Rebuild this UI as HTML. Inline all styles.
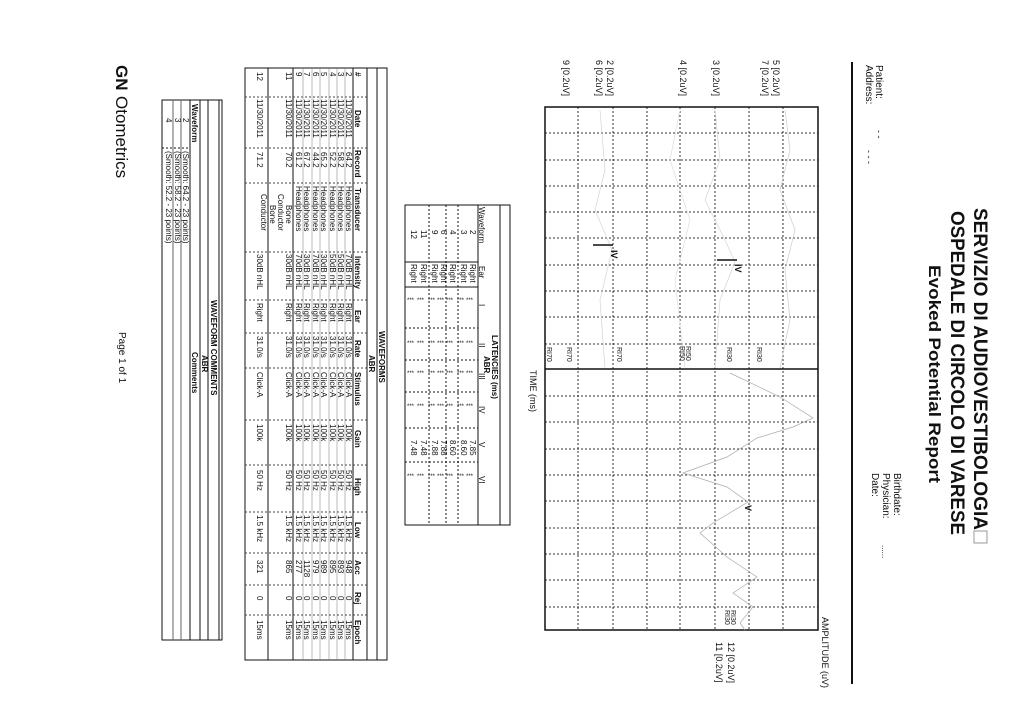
<!DOCTYPE html>
<html><head><meta charset="utf-8"><style>
html,body{margin:0;padding:0;background:#fff;}
svg{display:block}
text{font-family:"Liberation Sans",Arial,sans-serif;fill:#111}
.s{font-size:8px}
.b{font-weight:bold}
</style></head><body>
<svg width="1024" height="724" viewBox="0 0 1024 724" xmlns="http://www.w3.org/2000/svg">
<rect width="1024" height="724" fill="#fff"/>

<text class="b" font-size="19" textLength="322" lengthAdjust="spacingAndGlyphs" transform="translate(974,208) rotate(90)">SERVIZIO DI AUDIOVESTIBOLOGIA</text>
<rect x="974" y="531" width="13" height="12" fill="none" stroke="#999" stroke-width="1"/>
<text class="b" font-size="19" textLength="324" lengthAdjust="spacingAndGlyphs" transform="translate(951,211) rotate(90)">OSPEDALE DI CIRCOLO DI VARESE</text>
<text class="b" font-size="17" textLength="218" lengthAdjust="spacingAndGlyphs" transform="translate(929,265) rotate(90)">Evoked Potential Report</text>

<text font-size="10" transform="translate(876,65) rotate(90)">Patient:</text>
<text font-size="10" transform="translate(866,65) rotate(90)">Address:</text>
<text font-size="9" fill="#777" transform="translate(876,130) rotate(90)">- -</text>
<text font-size="9" fill="#777" transform="translate(866,150) rotate(90)">- - -</text>
<text font-size="10" transform="translate(894,473) rotate(90)">Birthdate:</text>
<text font-size="10" transform="translate(883,473) rotate(90)">Physician:</text>
<text font-size="10" transform="translate(872,473) rotate(90)">Date:</text>
<text font-size="8" fill="#888" transform="translate(882,545) rotate(90)">......</text>

<rect x="851" y="62" width="2" height="622" fill="#111"/>

<g stroke="#333" stroke-width="1" stroke-dasharray="2,2" fill="none">
<line x1="578" y1="107" x2="578" y2="630"/><line x1="613" y1="107" x2="613" y2="630"/>
<line x1="647" y1="107" x2="647" y2="630"/><line x1="680" y1="107" x2="680" y2="630"/>
<line x1="715" y1="107" x2="715" y2="630"/><line x1="749" y1="107" x2="749" y2="630"/>
<line x1="783" y1="107" x2="783" y2="630"/>
<line x1="545" y1="133" x2="818" y2="133"/><line x1="545" y1="160" x2="818" y2="160"/>
<line x1="545" y1="186" x2="818" y2="186"/><line x1="545" y1="212" x2="818" y2="212"/>
<line x1="545" y1="238" x2="818" y2="238"/><line x1="545" y1="265" x2="818" y2="265"/>
<line x1="545" y1="291" x2="818" y2="291"/><line x1="545" y1="317" x2="818" y2="317"/>
<line x1="545" y1="344" x2="818" y2="344"/>
<line x1="545" y1="396" x2="818" y2="396"/><line x1="545" y1="422" x2="818" y2="422"/>
<line x1="545" y1="449" x2="818" y2="449"/><line x1="545" y1="475" x2="818" y2="475"/>
<line x1="545" y1="501" x2="818" y2="501"/><line x1="545" y1="528" x2="818" y2="528"/>
<line x1="545" y1="554" x2="818" y2="554"/><line x1="545" y1="580" x2="818" y2="580"/>
<line x1="545" y1="607" x2="818" y2="607"/>
</g>
<rect x="545" y="107" width="273" height="523" fill="none" stroke="#111" stroke-width="1.5"/>
<line x1="545" y1="369" x2="818" y2="369" stroke="#111" stroke-width="1.5"/>

<g fill="none" stroke="#aaa" stroke-width="0.7">
<polyline points="730,373 780,397 813,418 793,427 757,438 727,457 683,473 727,487 748,502 713,523 700,533 727,557 757,577 733,593 753,607 740,623 745,630"/>
<polyline points="785,110 790,150 780,190 795,230 785,270 790,320 780,368" stroke="#ccc"/>
<polyline points="715,110 720,160 705,200 725,240 735,262 720,300 715,368" stroke="#d4d4d4"/>
<polyline points="600,110 605,170 595,210 612,250 600,300 605,368" stroke="#d4d4d4"/>
<polyline points="680,110 670,160 690,220 675,280 685,368" stroke="#ddd"/>
</g>
<line x1="593" y1="245" x2="613" y2="245" stroke="#111" stroke-width="1.5"/>
<text class="b" font-size="9" transform="translate(611,250) rotate(90)">IV</text>
<line x1="717" y1="260" x2="737" y2="260" stroke="#111" stroke-width="1.5"/>
<text class="b" font-size="9" transform="translate(735,264) rotate(90)">IV</text>
<text class="b" font-size="9" transform="translate(745,505) rotate(90)">V</text>

<g font-size="7" font-family="Liberation Serif">
<text transform="translate(757,347) rotate(90)">RI30</text>
<text transform="translate(727,347) rotate(90)">RI30</text>
<text transform="translate(686,346) rotate(90)">RI50</text>
<text transform="translate(680,346) rotate(90)">RI50</text>
<text transform="translate(617,347) rotate(90)">RI70</text>
<text transform="translate(567,347) rotate(90)">RI70</text>
<text transform="translate(547,347) rotate(90)">RI70</text>
<text transform="translate(731,610) rotate(90)">RI30</text>
<text transform="translate(725,610) rotate(90)">RI30</text>
</g>
<g font-size="9">
<text transform="translate(773,60) rotate(90)">5 [0.2uV]</text>
<text transform="translate(762,60) rotate(90)">7 [0.2uV]</text>
<text transform="translate(713,60) rotate(90)">3 [0.2uV]</text>
<text transform="translate(680,60) rotate(90)">4 [0.2uV]</text>
<text transform="translate(607,60) rotate(90)">2 [0.2uV]</text>
<text transform="translate(596,60) rotate(90)">6 [0.2uV]</text>
<text transform="translate(563,60) rotate(90)">9 [0.2uV]</text>
<text transform="translate(728,642) rotate(90)">12 [0.2uV]</text>
<text transform="translate(716,642) rotate(90)">11 [0.2uV]</text>
<text transform="translate(822,617) rotate(90)">AMPLITUDE (uV)</text>
<text transform="translate(530,370) rotate(90)">TIME (ms)</text>
</g>

<g stroke="#111" stroke-width="1" fill="none">
<rect x="405" y="205" width="105" height="320"/>
<line x1="500" y1="205" x2="500" y2="525"/>
<line x1="478" y1="205" x2="478" y2="525"/>
<line x1="405" y1="262" x2="478" y2="262"/>
<line x1="405" y1="287" x2="478" y2="287"/>
<line x1="405" y1="328" x2="478" y2="328" stroke-dasharray="2,2"/>
<line x1="405" y1="360" x2="478" y2="360" stroke-dasharray="2,2"/>
<line x1="405" y1="392" x2="478" y2="392" stroke-dasharray="2,2"/>
<line x1="405" y1="428" x2="478" y2="428" stroke-dasharray="2,2"/>
<line x1="405" y1="462" x2="478" y2="462" stroke-dasharray="2,2"/>
<line x1="458" y1="205" x2="458" y2="525" stroke-dasharray="2,2"/>
<line x1="446" y1="205" x2="446" y2="525" stroke-dasharray="2,2"/>
<line x1="429" y1="205" x2="429" y2="525" stroke-dasharray="2,2"/>
</g>
<g class="s">
<text class="b" transform="translate(492,335) rotate(90)">LATENCIES (ms)</text>
<text class="b" transform="translate(484,356) rotate(90)">ABR</text>
<text transform="translate(479,207) rotate(90)">Waveform</text>
<text transform="translate(479,266) rotate(90)">Ear</text>
<text transform="translate(479,304) rotate(90)">I</text>
<text transform="translate(479,343) rotate(90)">II</text>
<text transform="translate(479,373) rotate(90)">III</text>
<text transform="translate(479,406) rotate(90)">IV</text>
<text transform="translate(479,442) rotate(90)">V</text>
<text transform="translate(479,476) rotate(90)">VI</text>
</g>
<g class="s">
<text transform="translate(470,230) rotate(90)">2</text><text transform="translate(470,264) rotate(90)">Right</text>
<text transform="translate(461,230) rotate(90)">3</text><text transform="translate(461,264) rotate(90)">Right</text>
<text transform="translate(450,230) rotate(90)">4</text><text transform="translate(450,264) rotate(90)">Right</text>
<text transform="translate(441,230) rotate(90)">6</text><text transform="translate(441,264) rotate(90)">Right</text>
<text transform="translate(432,230) rotate(90)">9</text><text transform="translate(432,264) rotate(90)">Right</text>
<text transform="translate(421,230) rotate(90)">11</text><text transform="translate(421,264) rotate(90)">Right</text>
<text transform="translate(411,230) rotate(90)">12</text><text transform="translate(411,264) rotate(90)">Right</text>
<text transform="translate(470,440) rotate(90)">7.85</text>
<text transform="translate(461,440) rotate(90)">8.60</text>
<text transform="translate(450,440) rotate(90)">8.60</text>
<text transform="translate(441,440) rotate(90)">7.88</text>
<text transform="translate(432,440) rotate(90)">7.88</text>
<text transform="translate(421,440) rotate(90)">7.48</text>
<text transform="translate(411,440) rotate(90)">7.48</text>
</g>
<g font-size="6" fill="#444">
<text x="466" y="302">***</text><text x="466" y="345">***</text><text x="466" y="375">***</text><text x="466" y="408">***</text><text x="466" y="478">***</text>
<text x="457" y="302">***</text><text x="457" y="345">***</text><text x="457" y="375">***</text><text x="457" y="408">***</text><text x="457" y="478">***</text>
<text x="446" y="302">***</text><text x="446" y="345">***</text><text x="446" y="375">***</text><text x="446" y="408">***</text><text x="446" y="478">***</text>
<text x="437" y="302">***</text><text x="437" y="345">***</text><text x="437" y="375">***</text><text x="437" y="408">***</text><text x="437" y="478">***</text>
<text x="428" y="302">***</text><text x="428" y="345">***</text><text x="428" y="375">***</text><text x="428" y="408">***</text><text x="428" y="478">***</text>
<text x="417" y="302">***</text><text x="417" y="345">***</text><text x="417" y="375">***</text><text x="417" y="408">***</text><text x="417" y="478">***</text>
<text x="407" y="302">***</text><text x="407" y="345">***</text><text x="407" y="375">***</text><text x="407" y="408">***</text><text x="407" y="478">***</text>
</g>

<g stroke="#111" stroke-width="1" fill="none">
<rect x="245" y="68" width="142" height="592"/>
<line x1="377" y1="68" x2="377" y2="660"/>
<line x1="367" y1="68" x2="367" y2="660"/>
<line x1="353" y1="68" x2="353" y2="660"/>
<line x1="293" y1="68" x2="293" y2="660"/>
<line x1="268" y1="68" x2="268" y2="660"/>
<g stroke-dasharray="2,2" stroke="#444">
<line x1="245" y1="97" x2="367" y2="97"/><line x1="245" y1="148" x2="367" y2="148"/>
<line x1="245" y1="183" x2="367" y2="183"/><line x1="245" y1="252" x2="367" y2="252"/>
<line x1="245" y1="300" x2="367" y2="300"/><line x1="245" y1="333" x2="367" y2="333"/>
<line x1="245" y1="368" x2="367" y2="368"/><line x1="245" y1="420" x2="367" y2="420"/>
<line x1="245" y1="465" x2="367" y2="465"/><line x1="245" y1="512" x2="367" y2="512"/>
<line x1="245" y1="553" x2="367" y2="553"/><line x1="245" y1="585" x2="367" y2="585"/>
<line x1="245" y1="615" x2="367" y2="615"/>
</g>
<g stroke="#777" stroke-width="0.5">
<line x1="345" y1="68" x2="345" y2="660"/><line x1="337" y1="68" x2="337" y2="660"/>
<line x1="329" y1="68" x2="329" y2="660"/><line x1="320" y1="68" x2="320" y2="660"/>
<line x1="312" y1="68" x2="312" y2="660"/><line x1="303" y1="68" x2="303" y2="660"/>
</g>
</g>
<g class="s">
<text class="b" transform="translate(379,331) rotate(90)">WAVEFORMS</text>
<text class="b" transform="translate(369,355) rotate(90)">ABR</text>
<text class="b" transform="translate(355,72) rotate(90)">#</text>
<text class="b" transform="translate(355,110) rotate(90)">Date</text>
<text class="b" transform="translate(355,150) rotate(90)">Record</text>
<text class="b" transform="translate(355,188) rotate(90)">Transducer</text>
<text class="b" transform="translate(355,256) rotate(90)">Intensity</text>
<text class="b" transform="translate(355,310) rotate(90)">Ear</text>
<text class="b" transform="translate(355,340) rotate(90)">Rate</text>
<text class="b" transform="translate(355,372) rotate(90)">Stimulus</text>
<text class="b" transform="translate(355,430) rotate(90)">Gain</text>
<text class="b" transform="translate(355,478) rotate(90)">High</text>
<text class="b" transform="translate(355,522) rotate(90)">Low</text>
<text class="b" transform="translate(355,560) rotate(90)">Acc</text>
<text class="b" transform="translate(355,592) rotate(90)">Rej</text>
<text class="b" transform="translate(355,620) rotate(90)">Epoch</text>
</g>
<g class="s">
<g transform="translate(346,0)">
<text transform="translate(0,72) rotate(90)">2</text><text transform="translate(0,99) rotate(90)">11/30/2011</text><text transform="translate(0,152) rotate(90)">64.2</text><text transform="translate(0,186) rotate(90)">Headphones</text><text transform="translate(0,254) rotate(90)">70dB nHL</text><text transform="translate(0,303) rotate(90)">Right</text><text transform="translate(0,336) rotate(90)">31.0/s</text><text transform="translate(0,372) rotate(90)">Click-A</text><text transform="translate(0,424) rotate(90)">100k</text><text transform="translate(0,470) rotate(90)">50 Hz</text><text transform="translate(0,515) rotate(90)">1.5 kHz</text><text transform="translate(0,560) rotate(90)">948</text><text transform="translate(0,596) rotate(90)">0</text><text transform="translate(0,620) rotate(90)">15ms</text></g>
<g transform="translate(338,0)">
<text transform="translate(0,72) rotate(90)">3</text><text transform="translate(0,99) rotate(90)">11/30/2011</text><text transform="translate(0,152) rotate(90)">58.2</text><text transform="translate(0,186) rotate(90)">Headphones</text><text transform="translate(0,254) rotate(90)">50dB nHL</text><text transform="translate(0,303) rotate(90)">Right</text><text transform="translate(0,336) rotate(90)">31.0/s</text><text transform="translate(0,372) rotate(90)">Click-A</text><text transform="translate(0,424) rotate(90)">100k</text><text transform="translate(0,470) rotate(90)">50 Hz</text><text transform="translate(0,515) rotate(90)">1.5 kHz</text><text transform="translate(0,560) rotate(90)">893</text><text transform="translate(0,596) rotate(90)">0</text><text transform="translate(0,620) rotate(90)">15ms</text></g>
<g transform="translate(330,0)">
<text transform="translate(0,72) rotate(90)">4</text><text transform="translate(0,99) rotate(90)">11/30/2011</text><text transform="translate(0,152) rotate(90)">52.2</text><text transform="translate(0,186) rotate(90)">Headphones</text><text transform="translate(0,254) rotate(90)">50dB nHL</text><text transform="translate(0,303) rotate(90)">Right</text><text transform="translate(0,336) rotate(90)">31.0/s</text><text transform="translate(0,372) rotate(90)">Click-A</text><text transform="translate(0,424) rotate(90)">100k</text><text transform="translate(0,470) rotate(90)">50 Hz</text><text transform="translate(0,515) rotate(90)">1.5 kHz</text><text transform="translate(0,560) rotate(90)">895</text><text transform="translate(0,596) rotate(90)">0</text><text transform="translate(0,620) rotate(90)">15ms</text></g>
<g transform="translate(321,0)">
<text transform="translate(0,72) rotate(90)">5</text><text transform="translate(0,99) rotate(90)">11/30/2011</text><text transform="translate(0,152) rotate(90)">65.2</text><text transform="translate(0,186) rotate(90)">Headphones</text><text transform="translate(0,254) rotate(90)">30dB nHL</text><text transform="translate(0,303) rotate(90)">Right</text><text transform="translate(0,336) rotate(90)">31.0/s</text><text transform="translate(0,372) rotate(90)">Click-A</text><text transform="translate(0,424) rotate(90)">100k</text><text transform="translate(0,470) rotate(90)">50 Hz</text><text transform="translate(0,515) rotate(90)">1.5 kHz</text><text transform="translate(0,560) rotate(90)">989</text><text transform="translate(0,596) rotate(90)">0</text><text transform="translate(0,620) rotate(90)">15ms</text></g>
<g transform="translate(313,0)">
<text transform="translate(0,72) rotate(90)">6</text><text transform="translate(0,99) rotate(90)">11/30/2011</text><text transform="translate(0,152) rotate(90)">44.2</text><text transform="translate(0,186) rotate(90)">Headphones</text><text transform="translate(0,254) rotate(90)">70dB nHL</text><text transform="translate(0,303) rotate(90)">Right</text><text transform="translate(0,336) rotate(90)">31.0/s</text><text transform="translate(0,372) rotate(90)">Click-A</text><text transform="translate(0,424) rotate(90)">100k</text><text transform="translate(0,470) rotate(90)">50 Hz</text><text transform="translate(0,515) rotate(90)">1.5 kHz</text><text transform="translate(0,560) rotate(90)">979</text><text transform="translate(0,596) rotate(90)">0</text><text transform="translate(0,620) rotate(90)">15ms</text></g>
<g transform="translate(304,0)">
<text transform="translate(0,72) rotate(90)">7</text><text transform="translate(0,99) rotate(90)">11/30/2011</text><text transform="translate(0,152) rotate(90)">67.2</text><text transform="translate(0,186) rotate(90)">Headphones</text><text transform="translate(0,254) rotate(90)">30dB nHL</text><text transform="translate(0,303) rotate(90)">Right</text><text transform="translate(0,336) rotate(90)">31.0/s</text><text transform="translate(0,372) rotate(90)">Click-A</text><text transform="translate(0,424) rotate(90)">100k</text><text transform="translate(0,470) rotate(90)">50 Hz</text><text transform="translate(0,515) rotate(90)">1.5 kHz</text><text transform="translate(0,560) rotate(90)">1128</text><text transform="translate(0,596) rotate(90)">0</text><text transform="translate(0,620) rotate(90)">15ms</text></g>
<g transform="translate(296,0)">
<text transform="translate(0,72) rotate(90)">9</text><text transform="translate(0,99) rotate(90)">11/30/2011</text><text transform="translate(0,152) rotate(90)">61.2</text><text transform="translate(0,186) rotate(90)">Headphones</text><text transform="translate(0,254) rotate(90)">70dB nHL</text><text transform="translate(0,303) rotate(90)">Right</text><text transform="translate(0,336) rotate(90)">31.0/s</text><text transform="translate(0,372) rotate(90)">Click-A</text><text transform="translate(0,424) rotate(90)">100k</text><text transform="translate(0,470) rotate(90)">50 Hz</text><text transform="translate(0,515) rotate(90)">1.5 kHz</text><text transform="translate(0,560) rotate(90)">277</text><text transform="translate(0,596) rotate(90)">0</text><text transform="translate(0,620) rotate(90)">15ms</text></g>
<g transform="translate(286,0)">
<text transform="translate(0,72) rotate(90)">11</text><text transform="translate(0,99) rotate(90)">11/30/2011</text><text transform="translate(0,152) rotate(90)">70.2</text><text transform="translate(0,205) rotate(90)">Bone</text><text transform="translate(0,254) rotate(90)">30dB nHL</text><text transform="translate(0,303) rotate(90)">Right</text><text transform="translate(0,336) rotate(90)">31.0/s</text><text transform="translate(0,372) rotate(90)">Click-A</text><text transform="translate(0,424) rotate(90)">100k</text><text transform="translate(0,470) rotate(90)">50 Hz</text><text transform="translate(0,515) rotate(90)">1.5 kHz</text><text transform="translate(0,560) rotate(90)">865</text><text transform="translate(0,596) rotate(90)">0</text><text transform="translate(0,620) rotate(90)">15ms</text></g>
<text transform="translate(278,194) rotate(90)">Conductor</text>
<text transform="translate(270,205) rotate(90)">Bone</text>
<g transform="translate(257,0)">
<text transform="translate(0,72) rotate(90)">12</text><text transform="translate(0,99) rotate(90)">11/30/2011</text><text transform="translate(0,152) rotate(90)">71.2</text><text transform="translate(0,254) rotate(90)">30dB nHL</text><text transform="translate(0,303) rotate(90)">Right</text><text transform="translate(0,336) rotate(90)">31.0/s</text><text transform="translate(0,372) rotate(90)">Click-A</text><text transform="translate(0,424) rotate(90)">100k</text><text transform="translate(0,470) rotate(90)">50 Hz</text><text transform="translate(0,515) rotate(90)">1.5 kHz</text><text transform="translate(0,560) rotate(90)">321</text><text transform="translate(0,596) rotate(90)">0</text><text transform="translate(0,620) rotate(90)">15ms</text></g>
<text transform="translate(261,194) rotate(90)">Conductor</text>
</g>

<g stroke="#111" stroke-width="1" fill="none">
<rect x="162" y="100" width="60" height="540"/>
<line x1="219" y1="100" x2="219" y2="640"/>
<line x1="208" y1="100" x2="208" y2="640"/>
<line x1="200" y1="100" x2="200" y2="640"/>
<line x1="190" y1="100" x2="190" y2="640"/>
<line x1="181" y1="100" x2="181" y2="640" stroke="#666"/>
<line x1="173" y1="100" x2="173" y2="640" stroke="#666"/>
<line x1="162" y1="148" x2="190" y2="148" stroke-dasharray="2,2"/>
</g>
<g class="s">
<text class="b" transform="translate(211,300) rotate(90)">WAVEFORM COMMENTS</text>
<text class="b" transform="translate(202,355) rotate(90)">ABR</text>
<text class="b" transform="translate(192,104) rotate(90)">Waveform</text>
<text class="b" transform="translate(192,352) rotate(90)">Comments</text>
<text transform="translate(183,118) rotate(90)">2</text><text transform="translate(183,151) rotate(90)">(Smooth: 64.2 - 23 points)</text>
<text transform="translate(175,118) rotate(90)">3</text><text transform="translate(175,151) rotate(90)">(Smooth: 58.2 - 23 points)</text>
<text transform="translate(166,118) rotate(90)">4</text><text transform="translate(166,151) rotate(90)">(Smooth: 52.2 - 23 points)</text>
</g>

<text class="b" font-size="17" transform="translate(116,65) rotate(90)">GN</text>
<text font-size="17" transform="translate(116,96) rotate(90)">Otometrics</text>
<text font-size="10" transform="translate(119,332) rotate(90)">Page 1 of 1</text>
</svg>
</body></html>
